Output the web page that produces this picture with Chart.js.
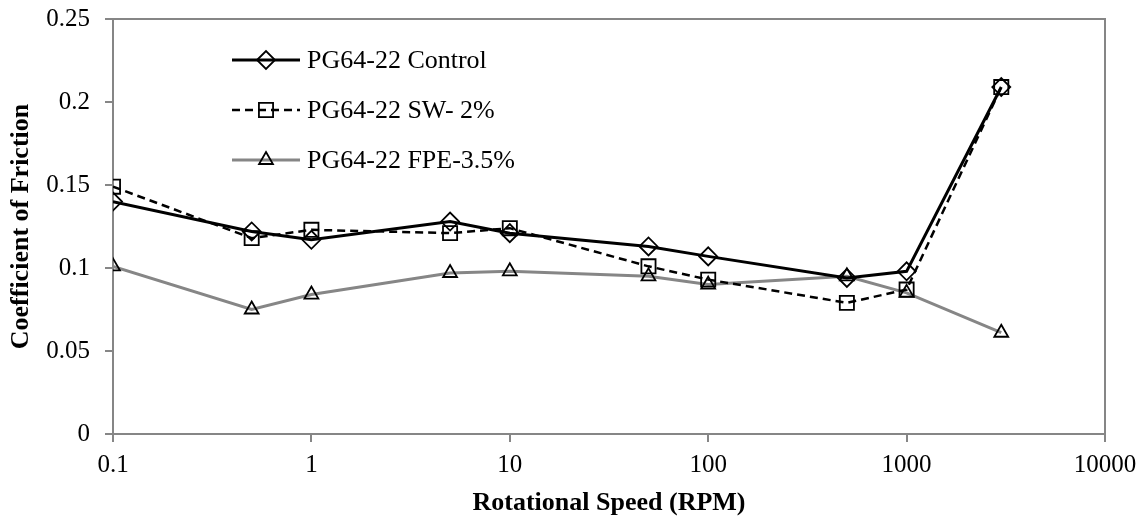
<!DOCTYPE html>
<html>
<head>
<meta charset="utf-8">
<script src="https://cdn.jsdelivr.net/npm/chart.js@4/dist/chart.umd.min.js"></script>
<style>
  html, body { margin: 0; padding: 0; background: #fff; }
  #wrap { width: 1145px; height: 519px; }
</style>
</head>
<body>
<div id="wrap"><canvas id="c" width="1145" height="519"></canvas></div>
<script>
// data
const speeds = [0.1, 0.5, 1, 5, 10, 50, 100, 500, 1000, 3000];
const control = [0.140, 0.122, 0.117, 0.128, 0.121, 0.113, 0.107, 0.094, 0.098, 0.209];
const sw2 = [0.149, 0.118, 0.123, 0.121, 0.124, 0.101, 0.093, 0.079, 0.087, 0.209];
const fpe35 = [0.101, 0.075, 0.084, 0.097, 0.098, 0.095, 0.090, 0.095, 0.085, 0.061];
const xTicks = [0.1, 1, 10, 100, 1000, 10000];
const yTicks = [0, 0.05, 0.1, 0.15, 0.2, 0.25];

const FONT = '"Liberation Serif", "Times New Roman", serif';
const GRAY = '#868686';

function toPoints(vals) {
  return speeds.map((s, i) => ({ x: s, y: vals[i] }));
}

// legend drawn inside the plot area, line + marker like the original
const insideLegend = {
  id: 'insideLegend',
  afterDraw(chart) {
    const ctx = chart.ctx;
    const x0 = 232, x1 = 300, tx = 307;
    const rows = [60, 110, 160];
    chart.data.datasets.forEach((ds, i) => {
      const y = rows[i];
      ctx.save();
      ctx.strokeStyle = ds.borderColor;
      ctx.lineWidth = ds.borderWidth;
      ctx.setLineDash(ds.borderDash || []);
      ctx.beginPath();
      ctx.moveTo(x0, y);
      ctx.lineTo(x1, y);
      ctx.stroke();
      ctx.setLineDash([]);
      ctx.strokeStyle = '#000';
      ctx.fillStyle = 'rgba(255,255,255,0)';
      ctx.lineWidth = ds.pointBorderWidth;
      Chart.helpers.drawPoint(ctx, {
        pointStyle: ds.pointStyle,
        radius: ds.pointRadius,
        borderWidth: ds.pointBorderWidth
      }, (x0 + x1) / 2, y);
      ctx.fillStyle = '#000';
      ctx.font = '26px ' + FONT;
      ctx.textBaseline = 'middle';
      ctx.fillText(ds.label, tx, y + 1);
      ctx.restore();
    });
  }
};

// plot frame (top and right edges)
const frame = {
  id: 'frame',
  beforeDatasetsDraw(chart) {
    const { ctx, chartArea: a } = chart;
    ctx.save();
    ctx.strokeStyle = GRAY;
    ctx.lineWidth = 2;
    ctx.strokeRect(a.left, a.top, a.right - a.left, a.bottom - a.top);
    ctx.restore();
  }
};

new Chart(document.getElementById('c'), {
  type: 'line',
  data: {
    datasets: [
      {
        label: 'PG64-22 Control',
        data: toPoints(control),
        borderColor: '#000',
        borderWidth: 3,
        pointStyle: 'rectRot',
        pointRadius: 9,
        pointBorderWidth: 1.8,
        pointBorderColor: '#000',
        pointBackgroundColor: 'rgba(255,255,255,0)'
      },
      {
        label: 'PG64-22 SW- 2%',
        data: toPoints(sw2),
        borderColor: '#000',
        borderWidth: 2.5,
        borderDash: [8, 5],
        pointStyle: 'rect',
        pointRadius: 10,
        pointBorderWidth: 1.8,
        pointBorderColor: '#000',
        pointBackgroundColor: 'rgba(255,255,255,0)'
      },
      {
        label: 'PG64-22 FPE-3.5%',
        data: toPoints(fpe35),
        borderColor: GRAY,
        borderWidth: 3,
        pointStyle: 'triangle',
        pointRadius: 8,
        pointBorderWidth: 1.8,
        pointBorderColor: '#000',
        pointBackgroundColor: 'rgba(255,255,255,0)'
      }
    ]
  },
  options: {
    responsive: false,
    animation: false,
    layout: { padding: { top: 0, right: 40, left: 0, bottom: 0 } },
    plugins: {
      legend: { display: false },
      tooltip: { enabled: false }
    },
    elements: { line: { tension: 0 } },
    scales: {
      x: {
        type: 'logarithmic',
        min: 0.1,
        max: 10000,
        afterBuildTicks(scale) {
          scale.ticks = xTicks.map(v => ({ value: v }));
        },
        afterFit(scale) { scale.height = 85; },
        grid: {
          display: true,
          drawOnChartArea: false,
          drawTicks: true,
          tickLength: 8,
          color: GRAY,
          lineWidth: 2
        },
        border: { color: GRAY, width: 2 },
        ticks: {
          color: '#000',
          font: { family: FONT, size: 25 },
          padding: 8,
          maxRotation: 0,
          autoSkip: false,
          callback: v => String(v)
        },
        title: {
          display: true,
          text: 'Rotational Speed (RPM)',
          color: '#000',
          font: { family: FONT, size: 26, weight: 'bold' },
          padding: { top: 0, bottom: 0 }
        }
      },
      y: {
        min: 0,
        max: 0.25,
        afterBuildTicks(scale) {
          scale.ticks = yTicks.map(v => ({ value: v }));
        },
        afterFit(scale) {
          scale.width = 113;
          scale.paddingTop = 19;
        },
        grid: {
          display: true,
          drawOnChartArea: false,
          drawTicks: true,
          tickLength: 8,
          color: GRAY,
          lineWidth: 2
        },
        border: { color: GRAY, width: 2 },
        ticks: {
          color: '#000',
          font: { family: FONT, size: 25 },
          padding: 15,
          callback: v => String(Math.round(v * 100) / 100)
        },
        title: {
          display: true,
          text: 'Coefficient of Friction',
          color: '#000',
          font: { family: FONT, size: 26, weight: 'bold' },
          padding: { top: 6, bottom: 0 }
        }
      }
    }
  },
  plugins: [frame, insideLegend]
});
</script>
</body>
</html>
